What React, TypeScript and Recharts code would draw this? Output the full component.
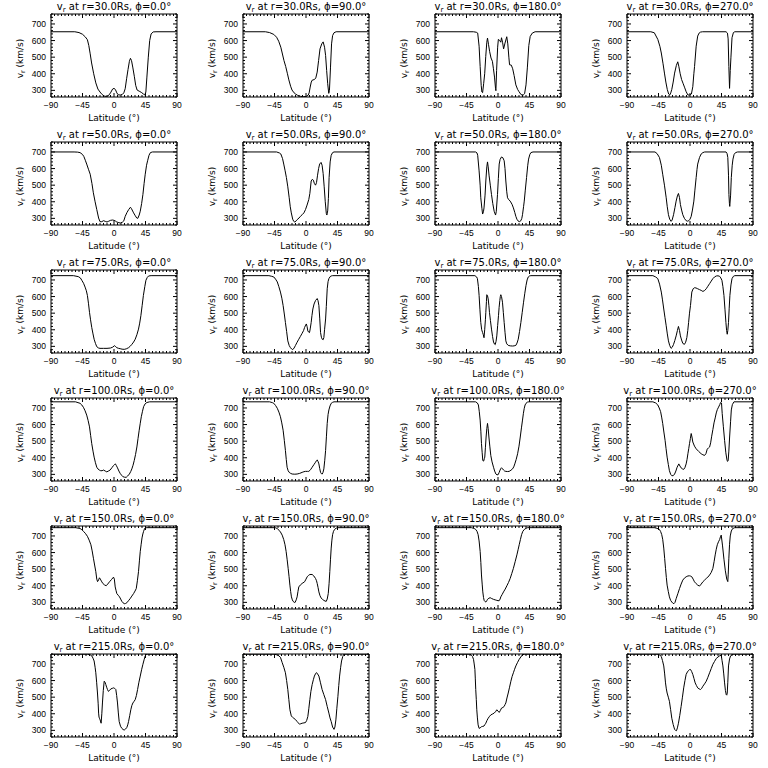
import React from "react";
import { LineChart, Line, XAxis, YAxis } from "recharts";

type Pt = [number, number];

const RADII = ["30.0", "50.0", "75.0", "100.0", "150.0", "215.0"];
const PHIS = ["0.0", "90.0", "180.0", "270.0"];
const X_MAJOR = [-90, -45, 0, 45, 90];
const Y_MAJOR = [300, 400, 500, 600, 700];
const X_DOMAIN: [number, number] = [-90, 90];
const Y_DOMAIN: [number, number] = [260, 760];
const X_MINOR_STEP = 5;
const Y_MINOR_STEP = 20;

// r = 30 Rs
const R30_P0: Pt[] = [[-90,653],[-56,653],[-50,648],[-45,638],[-41,622],[-38,605],[-36,570],[-34,520],[-32,465],[-29,400],[-26,345],[-23,308],[-20,290],[-17,275],[-14,266],[-11,263],[-8,268],[-5,285],[-2,308],[0,312],[2,305],[4,285],[6,273],[9,272],[12,276],[14,285],[16,310],[18,370],[20,425],[22,475],[23.5,493],[25,480],[27,435],[29,385],[31,330],[33,302],[36,295],[39,288],[42,278],[44,272],[45.5,290],[47,380],[49,500],[51,600],[53,640],[56,652],[60,653],[90,653]];
const R30_P90: Pt[] = [[-90,653],[-58,653],[-52,648],[-46,637],[-42,620],[-39,596],[-36,560],[-34,525],[-31.5,480],[-29,444],[-26.5,400],[-24.5,363],[-22,325],[-20,302],[-17,285],[-15,278],[-12,270],[-8,264],[-4,262],[0,263],[3,270],[4.5,285],[6,320],[7.5,350],[9,362],[12,365],[14,375],[16,410],[18,480],[20,550],[22.5,580],[24.5,592],[26.5,560],[28,510],[29.5,420],[31,340],[32.5,282],[33.5,300],[35,440],[36.5,580],[38,630],[40,647],[43,653],[90,653]];
const R30_P180: Pt[] = [[-90,653],[-35,653],[-31,650],[-29,645],[-27,566],[-25.5,444],[-24,330],[-23,290],[-22,286],[-20.5,340],[-19,400],[-17.5,505],[-16,590],[-15,615],[-13.5,575],[-12,535],[-10,495],[-8,475],[-6.5,430],[-5,380],[-3.5,310],[-3,298],[-2,420],[-0.5,560],[0.5,607],[2.5,600],[4,590],[5,617],[6.5,590],[8,550],[10,585],[12.5,623],[14,580],[15.5,500],[16.5,454],[19,452],[21,430],[23,390],[25.5,333],[28,306],[30,292],[33,274],[36,272],[38,280],[40,333],[42,440],[44,570],[46,625],[49,645],[53,653],[90,653]];
const R30_P270: Pt[] = [[-90,653],[-56,653],[-51,647],[-46,607],[-43,565],[-41,525],[-38.5,460],[-36.5,404],[-34.5,350],[-32.5,306],[-30.5,278],[-29,272],[-27.5,285],[-26,306],[-24,350],[-22,404],[-19.5,450],[-17.5,472],[-16,445],[-14,400],[-12,365],[-10,343],[-7.5,315],[-5.5,292],[-3,272],[0,272],[2,278],[4,322],[5.5,400],[6.5,444],[8.8,566],[11,627],[13,645],[15,651],[18,653],[51.5,653],[53.5,645],[54.5,610],[55.5,444],[56.5,312],[57.5,420],[58.5,500],[60,617],[62,648],[64,653],[90,653]];

// r = 50 Rs
const R50_P0: Pt[] = [[-90,700],[-57,700],[-52,699],[-48.5,696],[-45,685],[-43,672],[-41,650],[-39,627],[-36.5,596],[-34,566],[-31.5,510],[-29.5,454],[-27,400],[-24.6,353],[-22,302],[-20,280],[-17.5,280],[-15,286],[-12.5,282],[-10,278],[-7.5,283],[-5,288],[-2,290],[0,288],[2,284],[4,278],[7,274],[9,272],[12,277],[14,285],[16,312],[18.5,335],[21,353],[23.5,367],[25,358],[28,333],[30.5,315],[32.5,302],[34,300],[36,320],[37.5,343],[39.5,390],[41.3,444],[43,510],[44.6,566],[46.5,620],[48,647],[50,680],[52,696],[55,700],[90,700]];
const R50_P90: Pt[] = [[-90,700],[-42,700],[-38,694],[-36,688],[-33.5,660],[-31.8,627],[-30,590],[-28,546],[-26,490],[-24,424],[-22.5,370],[-21,333],[-19,295],[-17.5,282],[-16,278],[-14,285],[-12.7,292],[-10,302],[-8,312],[-5.5,322],[-3,333],[-0.7,353],[1.5,380],[4,414],[5.5,450],[7.4,525],[9,535],[10.5,530],[12,510],[13.6,500],[15,515],[16.5,560],[18,600],[19.5,627],[21.5,637],[23,620],[24.5,570],[26,490],[27.5,400],[29,330],[29.8,320],[31,345],[32,420],[33,546],[34.5,640],[36,680],[38,696],[40,700],[90,700]];
const R50_P180: Pt[] = [[-90,700],[-32,700],[-30,694],[-29,680],[-27,586],[-25.5,500],[-24.6,424],[-23,360],[-22,326],[-20.8,340],[-20,363],[-18.5,440],[-17.4,525],[-16,610],[-15,640],[-14,610],[-12.7,556],[-11,500],[-9.3,444],[-7.5,390],[-5.5,343],[-3.5,320],[-2.5,340],[-0.7,444],[0.5,540],[1.7,627],[3,655],[5,670],[7,665],[8.8,647],[10,600],[11.2,525],[12.5,460],[13.6,424],[15.5,412],[17.4,404],[20,385],[22,363],[24,335],[25.5,312],[27,295],[28.5,285],[30.5,280],[32.7,286],[34,300],[35,322],[36.5,370],[37.5,404],[39,470],[40.8,546],[42.5,620],[43.7,657],[45.5,685],[47,696],[50,700],[90,700]];
const R50_P270: Pt[] = [[-90,700],[-50,700],[-47,690],[-43.7,667],[-41,620],[-39,566],[-36.5,500],[-34,424],[-32.5,370],[-30.8,322],[-29,295],[-27,282],[-25.5,290],[-23.5,322],[-21.5,365],[-19.8,404],[-18,435],[-16.5,450],[-15,425],[-13.7,383],[-12,350],[-10.3,322],[-8,300],[-5.5,286],[-3.5,283],[-1.7,286],[0,295],[1.7,312],[3.5,350],[5.5,404],[7,470],[8.8,546],[10,595],[11,627],[13.6,667],[16,688],[18.4,696],[21,700],[51.5,700],[53,690],[54,667],[55,560],[55.6,444],[56.3,390],[56.8,372],[58,440],[59,546],[60.3,620],[61.4,657],[63,685],[65,696],[68,700],[90,700]];

// r = 75 Rs
const R75_P0: Pt[] = [[-90,726],[-58,726],[-51,720],[-48,712],[-46,698],[-43.5,680],[-41.3,657],[-39.5,635],[-38,607],[-36.5,560],[-35,505],[-33.5,460],[-31.8,414],[-30,375],[-28.4,343],[-26.5,318],[-24.6,298],[-22,290],[-20,288],[-15,288],[-10,288],[-5,290],[-2,295],[0.7,304],[2.5,298],[4,292],[6.5,288],[8.8,286],[11.5,283],[14.6,282],[17.5,285],[20.8,292],[23,300],[25.5,312],[28,326],[30.3,343],[32.7,370],[35,404],[36.7,440],[38.4,485],[40.2,545],[42,607],[44,660],[45.6,698],[47.5,715],[49.4,724],[53,726],[90,726]];
const R75_P90: Pt[] = [[-90,726],[-53,726],[-49,722],[-46,718],[-43.5,705],[-41,688],[-38.8,660],[-36.5,627],[-34.5,590],[-32.7,546],[-31,495],[-29.4,444],[-27.7,390],[-26,333],[-24,305],[-22.2,292],[-20.5,284],[-19,280],[-17,290],[-15,306],[-12.7,325],[-10.3,343],[-8,360],[-5.5,379],[-3.5,395],[-2,414],[-0.5,428],[0.5,435],[1.5,420],[2.6,393],[4,385],[5,383],[6,405],[7.4,444],[8.5,485],[9.8,525],[11.5,555],[13.6,576],[16,588],[17.2,575],[18.4,546],[19.6,470],[20.8,383],[22,355],[23.2,343],[24.5,340],[25.5,353],[26.5,400],[28,465],[29,540],[30.3,647],[31.5,690],[32.7,708],[34.5,720],[36,724],[38,726],[90,726]];
const R75_P180: Pt[] = [[-90,726],[-33,726],[-30.5,718],[-29.4,708],[-28,660],[-27,607],[-25.8,520],[-24.6,444],[-23.3,400],[-22,383],[-21,370],[-20,352],[-19,400],[-18,460],[-17.4,505],[-16.5,570],[-16,611],[-15,605],[-14,586],[-13,545],[-12.2,505],[-10.8,455],[-9.3,404],[-7.8,360],[-6.4,326],[-5,314],[-4,310],[-2.8,330],[-1.7,363],[-0.5,425],[0.7,485],[1.6,535],[2.6,576],[3.3,600],[4,611],[5,600],[6.4,566],[7.6,505],[8.8,444],[10,385],[11.2,333],[12.5,315],[14.6,306],[17.5,303],[20.8,302],[23,303],[25.5,306],[27.2,320],[28.9,343],[30.8,390],[32.7,444],[34.6,505],[36.5,566],[38.3,620],[40,667],[41.6,700],[43.2,718],[45,724],[47,726],[90,726]];
const R75_P270: Pt[] = [[-90,726],[-53,726],[-49,718],[-46,708],[-43.5,675],[-41,627],[-39.3,580],[-37.5,525],[-35.8,475],[-34,424],[-32.4,375],[-30.8,333],[-29,305],[-27,288],[-25.3,295],[-23.5,312],[-21.7,335],[-19.8,363],[-18,395],[-16.5,420],[-15,395],[-13.7,363],[-12,338],[-10.3,318],[-8,312],[-6.2,325],[-4.5,353],[-3.2,395],[-2,444],[-0.7,500],[0.7,546],[1.7,590],[2.6,627],[4.5,647],[6.4,653],[8.5,652],[11,647],[13.5,642],[16,637],[18.4,631],[20.8,636],[23.2,647],[25.5,662],[28,678],[30.3,693],[32.7,708],[35,718],[37.5,724],[40,725],[42.3,722],[44,712],[45.6,698],[47,660],[48.5,607],[50,520],[51.3,444],[52.3,395],[53.2,373],[54,395],[55,444],[56,530],[57,607],[58.5,670],[60,708],[62,722],[64,726],[90,726]];

// r = 100 Rs
const R100_P0: Pt[] = [[-90,737],[-55,737],[-48.5,728],[-46,718],[-43.7,704],[-41.3,683],[-39,657],[-37,625],[-35,586],[-33.4,535],[-31.8,485],[-30,440],[-28.4,404],[-26.5,370],[-24.6,343],[-22.8,332],[-21,326],[-19,322],[-17,322],[-15,326],[-12.5,320],[-10.3,315],[-8,320],[-5.5,326],[-3,340],[-0.7,353],[1,360],[2,363],[3.5,352],[5,339],[7,320],[8.8,306],[10.8,295],[12.7,286],[15,283],[17.4,282],[19.5,290],[22,302],[24,318],[25.5,333],[27.2,355],[28.9,383],[30.8,420],[32.7,465],[34.3,515],[36,566],[37.5,608],[39,647],[40.7,680],[42.3,708],[44.5,725],[47,733],[51,737],[90,737]];
const R100_P90: Pt[] = [[-90,737],[-52,737],[-48,732],[-46,728],[-43.5,715],[-41,698],[-38.7,675],[-36.5,647],[-34.6,610],[-32.7,566],[-31,505],[-29.4,444],[-28.2,390],[-27,343],[-25.5,322],[-24,312],[-22,306],[-19.8,302],[-16,301],[-12.7,302],[-9,306],[-5.5,312],[-3,316],[-0.7,318],[2,318],[4,318],[6.5,328],[8.8,343],[11.2,358],[13.6,373],[15,383],[16,387],[17.2,378],[18.4,363],[19.6,335],[20.8,312],[22,304],[23.2,302],[24.3,312],[25.5,333],[26.8,385],[28,444],[29.2,530],[30.3,607],[31.5,660],[32.7,688],[34.3,712],[36,728],[38,734],[40,737],[90,737]];
const R100_P180: Pt[] = [[-90,737],[-32,737],[-29.5,730],[-28,718],[-26.8,680],[-25.5,627],[-24.5,560],[-23.6,485],[-22.6,430],[-21.7,383],[-20.5,380],[-19.5,395],[-18.9,404],[-18,460],[-17,525],[-16,575],[-15,607],[-14,575],[-13,525],[-11.7,470],[-10.3,414],[-8.5,375],[-6.4,343],[-4.8,320],[-3,302],[-1.5,297],[0.2,298],[1.5,310],[3,326],[4,335],[5,340],[6.5,333],[7.9,326],[9.5,320],[11.2,318],[13.5,317],[16,318],[18.5,325],[20.8,333],[22.5,345],[24,363],[26,390],[28,424],[30,470],[31.8,525],[33.5,580],[35,627],[36.3,668],[37.5,698],[38.7,718],[40,728],[42,735],[44,737],[90,737]];
const R100_P270: Pt[] = [[-90,737],[-53,737],[-49,730],[-46,718],[-44,700],[-42,678],[-40.5,645],[-39,607],[-37.3,555],[-35.6,505],[-34.2,455],[-32.7,404],[-31,360],[-29.4,322],[-27.6,300],[-26,292],[-24,292],[-22,302],[-20.2,320],[-18.4,343],[-16,363],[-14.3,350],[-12.7,339],[-10.8,333],[-9,330],[-7.3,340],[-5.5,363],[-4.2,390],[-3,424],[-1.8,455],[-0.7,485],[0.5,515],[1.7,546],[2.8,525],[4,495],[6.4,470],[8.8,454],[12.4,438],[16,424],[18.4,418],[20.8,414],[22.8,425],[24.6,452],[26.5,460],[28,465],[29.5,490],[31,530],[32.7,570],[34.3,610],[36,640],[37.5,670],[39,690],[40.8,705],[42.5,720],[43.7,733],[45,730],[46,667],[47.6,590],[49.4,505],[51.2,430],[52.8,387],[53.6,378],[54.5,383],[55.5,440],[56.6,525],[58,620],[59,688],[60.5,720],[62.8,737],[90,737]];

// r = 150 Rs
const R150_P0: Pt[] = [[-90,750],[-55,750],[-48.5,745],[-46,738],[-43.7,728],[-41,716],[-38,698],[-35.5,675],[-33,647],[-31.2,610],[-29.4,566],[-27.7,525],[-26,485],[-24.6,440],[-23.5,425],[-22,435],[-20.8,448],[-19.5,440],[-18,428],[-16,414],[-13.5,405],[-11.2,400],[-9,410],[-6.4,424],[-3.5,438],[-0.7,452],[0.5,440],[1.7,393],[3,370],[4,353],[6,343],[7.9,333],[9.5,320],[11.2,306],[13,297],[14.6,292],[16.5,293],[18.4,298],[20.7,310],[23,322],[25.5,338],[28,353],[30,368],[31.8,383],[33.4,430],[35,485],[36.3,550],[37.5,607],[38.8,650],[40,688],[41.2,712],[42.3,728],[43.5,742],[44.6,749],[47,750],[90,750]];
const R150_P90: Pt[] = [[-90,750],[-44,750],[-41,745],[-38.8,735],[-36.5,724],[-34,705],[-31.8,678],[-30,647],[-28.4,607],[-27,560],[-25.5,505],[-24.2,455],[-23,404],[-21.9,365],[-20.8,333],[-19.5,315],[-18.4,306],[-16.8,300],[-15.5,300],[-14,315],[-12.7,333],[-11.5,365],[-10.3,393],[-8,405],[-5.5,414],[-2,424],[0,440],[1.7,454],[3.5,462],[5.5,468],[8.8,468],[11,460],[13.6,444],[15,430],[16,414],[17.2,390],[18.4,363],[20,340],[21.7,326],[23.5,318],[25.5,312],[27.2,308],[28.9,306],[30.3,320],[31.8,353],[33,415],[34,485],[35,560],[36,627],[37,675],[38,708],[39.3,728],[40.8,739],[43,747],[45,750],[90,750]];
const R150_P180: Pt[] = [[-90,750],[-38,750],[-34,745],[-31.8,739],[-30,728],[-28.4,708],[-27,670],[-25.5,607],[-24.5,540],[-23.6,465],[-22.6,410],[-21.7,363],[-20.7,330],[-19.8,312],[-18.6,305],[-17.4,302],[-16,310],[-15,318],[-13,325],[-11.2,328],[-9,323],[-6.4,318],[-4,315],[-1.7,312],[0,310],[1.7,310],[3,320],[4,333],[6,348],[7.9,363],[10.3,380],[12.7,400],[15,420],[17.4,444],[19.7,474],[22,505],[24.5,545],[27,586],[28.7,617],[30.3,647],[32,678],[33.7,708],[35.5,728],[37.5,739],[40,746],[42.3,750],[90,750]];
const R150_P270: Pt[] = [[-90,750],[-51,750],[-47,746],[-43.7,739],[-42,727],[-40.4,708],[-39,680],[-37.5,627],[-36.2,565],[-35,505],[-33.8,450],[-32.7,404],[-31,365],[-29.4,333],[-27.7,312],[-26,302],[-24.5,295],[-23,292],[-21.4,300],[-19.8,322],[-17.4,352],[-15,383],[-12.7,410],[-10.3,434],[-8,446],[-5.5,454],[-3,459],[-0.7,460],[1,458],[2.6,454],[4.5,440],[6.4,424],[8.7,413],[11,404],[13.6,398],[16,410],[18.4,424],[20.8,434],[23.2,444],[25.5,452],[28,465],[30.3,480],[32.7,505],[34.4,545],[36,586],[37.5,620],[39,647],[40.7,665],[42.3,678],[43.5,695],[44.6,705],[46.5,640],[48.5,560],[50.5,490],[52.5,440],[54,425],[54.6,470],[55.5,566],[56.5,650],[57.5,700],[59,730],[61,745],[64,750],[90,750]];

// r = 215 Rs
const R215_P0: Pt[] = [[-90,759],[-38,759],[-34,755],[-31.8,749],[-30,735],[-28.4,718],[-27,680],[-26,647],[-24.8,590],[-23.6,525],[-22.6,460],[-22,404],[-21.4,380],[-20.8,373],[-19.8,363],[-18.4,343],[-17.4,400],[-16.5,465],[-15.3,540],[-14,596],[-12.8,590],[-11.7,576],[-10.5,560],[-9.3,546],[-8,535],[-6.5,540],[-4.5,550],[-2.5,553],[-0.7,556],[1,553],[2.6,546],[3.8,510],[5,465],[6.2,405],[7.4,353],[9.3,325],[11.2,312],[13,305],[14.6,302],[16.5,308],[18.4,318],[19.6,333],[20.8,353],[22.5,390],[24,424],[25.5,450],[27,465],[28.7,475],[30.3,485],[32,510],[33.7,546],[35.6,590],[37.5,627],[39.4,665],[41.3,698],[43,725],[44.6,749],[46,756],[48,759],[90,759]];
const R215_P90: Pt[] = [[-90,759],[-45,759],[-40,753],[-36.5,740],[-34,708],[-31.7,680],[-29.4,647],[-27.7,600],[-26,546],[-24.5,485],[-23,424],[-21,387],[-19,378],[-17.5,373],[-15,365],[-12.7,353],[-11,345],[-9.3,337],[-7.5,340],[-5.5,343],[-3,345],[-0.7,347],[1,360],[2.6,383],[4,430],[5.5,485],[7,535],[8.8,576],[10.5,605],[12,627],[13.5,640],[15,648],[16.5,640],[18.4,627],[20.5,590],[23,546],[25.5,515],[28,485],[30.3,444],[32.7,404],[34.3,375],[36,353],[38,320],[40,306],[41.3,320],[42.7,363],[44,430],[45.6,505],[46.8,570],[48,627],[49.5,680],[50.8,718],[52.5,745],[54,759],[90,759]];
const R215_P180: Pt[] = [[-90,759],[-40,759],[-38,753],[-36.5,745],[-35,728],[-34,700],[-33,667],[-32.4,610],[-31.8,546],[-31,485],[-30.3,424],[-29.4,375],[-28.4,333],[-27,312],[-25.5,315],[-23.6,322],[-21.8,324],[-20,326],[-18.7,335],[-17.4,343],[-15.7,360],[-14,373],[-12,385],[-10.3,393],[-8,398],[-5.5,404],[-3.6,412],[-1.7,424],[0,416],[1.7,408],[3.4,420],[5,434],[7,438],[8.8,444],[10,455],[11.2,465],[12.8,495],[14.6,525],[16.5,560],[18.4,596],[20.2,625],[22,647],[23.7,668],[25.5,688],[28,710],[30.3,728],[32.6,742],[35,755],[38,759],[90,759]];
const R215_P270: Pt[] = [[-90,759],[-47,759],[-43,753],[-41,745],[-39.3,720],[-37.5,688],[-36.2,640],[-35,586],[-33.8,550],[-32.7,525],[-31,500],[-29.4,475],[-27.7,425],[-26,373],[-24,335],[-22,306],[-20.7,300],[-19.3,298],[-18,315],[-16.5,343],[-14.6,390],[-12.7,444],[-10.8,500],[-9,556],[-7.2,600],[-5.5,637],[-3.7,652],[-2,661],[-0.7,666],[0.7,667],[2.3,655],[4,637],[5.7,612],[7.4,586],[9.2,570],[11,556],[13,550],[15,546],[16.7,553],[18.4,566],[20.8,580],[23.2,596],[25.6,620],[28,647],[30.3,672],[32.7,698],[35,715],[37.5,733],[40,742],[42.3,749],[44.6,753],[45.8,720],[47,688],[48.2,640],[49.4,586],[50.6,540],[51.8,515],[52.5,512],[53.2,525],[54,590],[55,688],[56.5,730],[58,749],[61.4,759],[90,759]];

const PANELS: Pt[][][] = [
  [R30_P0, R30_P90, R30_P180, R30_P270],
  [R50_P0, R50_P90, R50_P180, R50_P270],
  [R75_P0, R75_P90, R75_P180, R75_P270],
  [R100_P0, R100_P90, R100_P180, R100_P270],
  [R150_P0, R150_P90, R150_P180, R150_P270],
  [R215_P0, R215_P90, R215_P180, R215_P270],
];

const X_ALL: number[] = [];
for (let v = X_DOMAIN[0]; v <= X_DOMAIN[1]; v += X_MINOR_STEP) X_ALL.push(v);
const Y_ALL: number[] = [];
for (let v = Y_DOMAIN[0]; v <= Y_DOMAIN[1]; v += Y_MINOR_STEP) Y_ALL.push(v);

const FONT_TEXT = "'DejaVu Sans', 'Liberation Sans', sans-serif";
const FONT_TICK = "'Liberation Sans', Arial, sans-serif";
const MAJ = 4;
const MIN = 2;

const fmt = (v: number) => (v < 0 ? "\u2212" + Math.abs(v) : String(v));

const BottomTick = (p: any) => {
  const major = X_MAJOR.includes(p.payload.value);
  return (
    <g>
      <line x1={p.x} x2={p.x} y1={p.y} y2={p.y - (major ? MAJ : MIN)} stroke="#000" strokeWidth={1} />
      {major && (
        <text x={p.x} y={p.y + 10.5} textAnchor="middle" fontSize={8.5} fontFamily={FONT_TICK} fill="#000">
          {fmt(p.payload.value)}
        </text>
      )}
    </g>
  );
};
const TopTick = (p: any) => {
  const major = X_MAJOR.includes(p.payload.value);
  return <line x1={p.x} x2={p.x} y1={p.y} y2={p.y + (major ? MAJ : MIN)} stroke="#000" strokeWidth={1} />;
};
const LeftTick = (p: any) => {
  const major = Y_MAJOR.includes(p.payload.value);
  return (
    <g>
      <line x1={p.x} x2={p.x + (major ? MAJ : MIN)} y1={p.y} y2={p.y} stroke="#000" strokeWidth={1} />
      {major && (
        <text x={p.x - 5} y={p.y + 3} textAnchor="end" fontSize={8.5} fontFamily={FONT_TICK} fill="#000">
          {fmt(p.payload.value)}
        </text>
      )}
    </g>
  );
};
const RightTick = (p: any) => {
  const major = Y_MAJOR.includes(p.payload.value);
  return <line x1={p.x} x2={p.x - (major ? MAJ : MIN)} y1={p.y} y2={p.y} stroke="#000" strokeWidth={1} />;
};

function Panel({ pts, r, phi }: { pts: Pt[]; r: string; phi: string }) {
  const rows = pts.map(([lat, v]) => ({ lat, v }));
  const titleLabel = (lp: any) => {
    const vb = lp && lp.viewBox && lp.viewBox.width ? lp.viewBox : { x: 51, y: 13, width: 126, height: 1 };
    return (
      <text x={vb.x + vb.width / 2} y={vb.y - 3} textAnchor="middle" fontSize={10} fontFamily={FONT_TEXT} fill="#000">
        v<tspan fontSize={7} dy={2}>r</tspan>
        <tspan dy={-2}>{` at r=${r}Rs, \u03D5=${phi}\u00B0`}</tspan>
      </text>
    );
  };
  const xLabel = (lp: any) => {
    const vb = lp && lp.viewBox && lp.viewBox.width ? lp.viewBox : { x: 51, y: 97, width: 126, height: 31 };
    return (
      <text x={vb.x + vb.width / 2} y={vb.y + 24} textAnchor="middle" fontSize={9} fontFamily={FONT_TEXT} fill="#000">
        {"Latitude (\u00B0)"}
      </text>
    );
  };
  const yLabel = (lp: any) => {
    const vb = lp && lp.viewBox && lp.viewBox.height ? lp.viewBox : { x: 0, y: 14, width: 51, height: 83 };
    const cx = vb.x + 23;
    const cy = vb.y + vb.height / 2 + 3;
    return (
      <text x={cx} y={cy} transform={`rotate(-90 ${cx} ${cy})`} textAnchor="middle" fontSize={9} fontFamily={FONT_TEXT} fill="#000">
        v<tspan fontSize={6.5} dy={2}>r</tspan>
        <tspan dy={-2}>{" (km/s)"}</tspan>
      </text>
    );
  };
  return (
    <LineChart width={192} height={128} data={rows} margin={{ top: 13, right: 14, bottom: 0, left: 0 }}>
      <XAxis
        dataKey="lat"
        type="number"
        domain={X_DOMAIN}
        allowDataOverflow
        ticks={X_ALL}
        interval={0}
        tickSize={0}
        tickMargin={0}
        tickLine={false}
        height={31}
        axisLine={{ stroke: "#000", strokeWidth: 1 }}
        tick={BottomTick}
        label={xLabel}
      />
      <XAxis
        xAxisId="top"
        dataKey="lat"
        orientation="top"
        type="number"
        domain={X_DOMAIN}
        allowDataOverflow
        ticks={X_ALL}
        interval={0}
        tickSize={0}
        tickMargin={0}
        tickLine={false}
        height={1}
        axisLine={{ stroke: "#000", strokeWidth: 1 }}
        tick={TopTick}
        label={titleLabel}
      />
      <YAxis
        dataKey="v"
        type="number"
        domain={Y_DOMAIN}
        allowDataOverflow
        ticks={Y_ALL}
        interval={0}
        tickSize={0}
        tickMargin={0}
        tickLine={false}
        width={51}
        axisLine={{ stroke: "#000", strokeWidth: 1 }}
        tick={LeftTick}
        label={yLabel}
      />
      <YAxis
        yAxisId="right"
        dataKey="v"
        orientation="right"
        type="number"
        domain={Y_DOMAIN}
        allowDataOverflow
        ticks={Y_ALL}
        interval={0}
        tickSize={0}
        tickMargin={0}
        tickLine={false}
        width={1}
        axisLine={{ stroke: "#000", strokeWidth: 1 }}
        tick={RightTick}
      />
      <Line type="linear" dataKey="v" stroke="#000" strokeWidth={1} dot={false} activeDot={false} isAnimationActive={false} />
    </LineChart>
  );
}

export default function App() {
  return (
    <div style={{ position: "absolute", left: 0, top: 0, width: 768, height: 768, background: "#fff" }}>
      {RADII.map((r, ri) =>
        PHIS.map((phi, pi) => (
          <div key={`${ri}-${pi}`} style={{ position: "absolute", left: pi * 192, top: ri * 128, width: 192, height: 128 }}>
            <Panel pts={PANELS[ri][pi]} r={r} phi={phi} />
          </div>
        ))
      )}
    </div>
  );
}
